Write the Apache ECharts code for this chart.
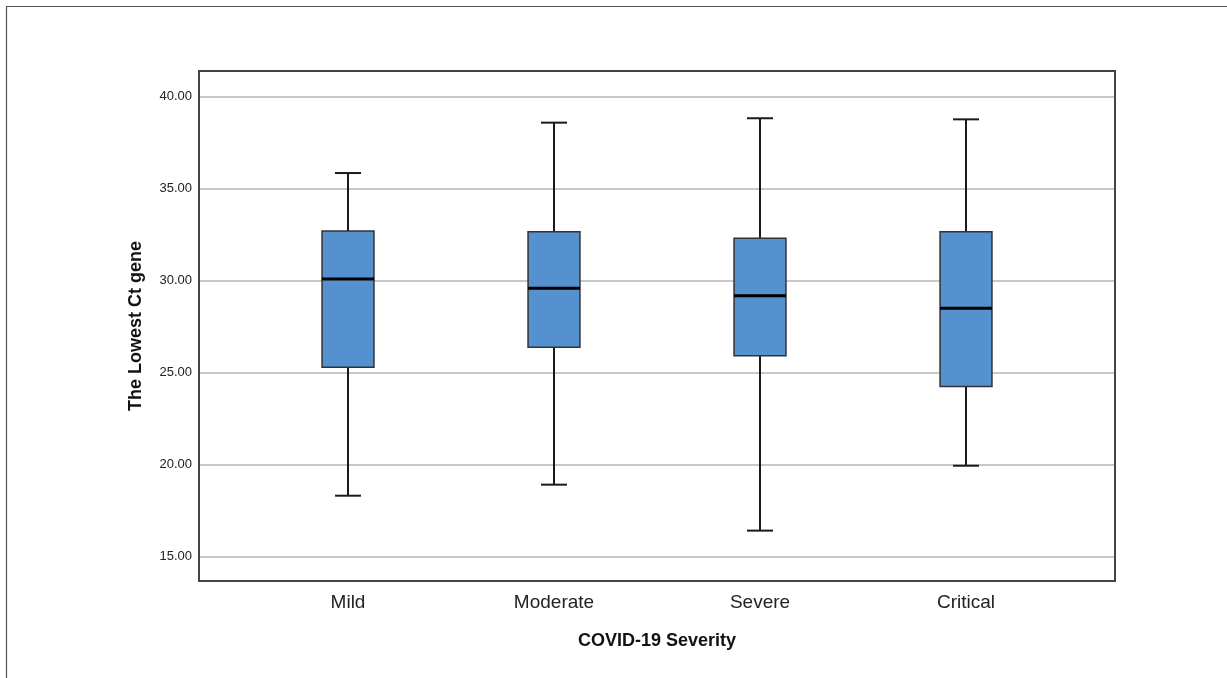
<!DOCTYPE html>
<html>
<head>
<meta charset="utf-8">
<script src="https://cdn.jsdelivr.net/npm/echarts@6/dist/echarts.min.js"></script>
<style>
html,body{margin:0;padding:0;background:#fff;}
#chart{width:1227px;height:678px;}
</style>
</head>
<body>
<div id="chart"></div>
<script>
const categories = ['Mild', 'Moderate', 'Severe', 'Critical'];
const whiskerLow = [18.30, 18.90, 16.40, 19.93];
const quartile1 = [25.29, 26.38, 25.91, 24.24];
const medians = [30.08, 29.59, 29.18, 28.50];
const quartile3 = [32.70, 32.66, 32.30, 32.66];
const whiskerHigh = [35.85, 38.59, 38.83, 38.77];
const yMin = 13.66;
const yMax = 41.40;

const boxData = categories.map((c, i) => [i, whiskerLow[i], quartile1[i], medians[i], quartile3[i], whiskerHigh[i]]);

const chart = echarts.init(document.getElementById('chart'));
const FONT = 'Liberation Sans, Arial, sans-serif';

chart.setOption({
  animation: false,
  backgroundColor: '#ffffff',
  graphic: [{
    type: 'rect',
    shape: {x: 6.5, y: 6.5, width: 1400, height: 900},
    style: {fill: 'none', stroke: '#555', lineWidth: 1.2},
    z: 100
  }],
  grid: [
    {left: 199, right: 112, top: 71, bottom: 97, show: true, borderColor: '#444', borderWidth: 2, backgroundColor: 'transparent', z: 3},
    {left: 245, right: 158, top: 71, bottom: 97}
  ],
  xAxis: [
    {type: 'value', gridIndex: 0, show: false, min: 0, max: 1},
    {
      type: 'category', gridIndex: 1, data: categories,
      axisLine: {show: false}, axisTick: {show: false},
      axisLabel: {fontFamily: FONT, fontSize: 19, color: '#222', margin: 12},
      name: 'COVID-19 Severity', nameLocation: 'middle', nameGap: 51,
      nameTextStyle: {fontFamily: FONT, fontSize: 18, fontWeight: 'bold', color: '#111'}
    }
  ],
  yAxis: [
    {
      type: 'value', gridIndex: 0, min: yMin, max: yMax, splitNumber: 5,
      axisLine: {show: false}, axisTick: {show: false},
      axisLabel: {
        fontFamily: FONT, fontSize: 13, color: '#222', margin: 7,
        padding: [5, 0, 0, 0],
        showMinLabel: false, showMaxLabel: false,
        formatter: v => (Math.abs(v / 5 - Math.round(v / 5)) < 1e-6 ? v.toFixed(2) : '')
      },
      splitLine: {show: true, lineStyle: {color: '#c8c8c8', width: 2}},
      name: 'The Lowest Ct gene', nameLocation: 'middle', nameGap: 54, nameRotate: 90,
      nameTextStyle: {fontFamily: FONT, fontSize: 18, fontWeight: 'bold', color: '#111'}
    },
    {type: 'value', gridIndex: 1, min: yMin, max: yMax, show: false, splitLine: {show: false}}
  ],
  series: [{
    type: 'custom',
    xAxisIndex: 1,
    yAxisIndex: 1,
    z: 5,
    encode: {x: 0, y: [1, 2, 3, 4, 5]},
    data: boxData,
    renderItem: function (params, api) {
      const idx = api.value(0);
      const pLow = api.coord([idx, api.value(1)]);
      const pQ1 = api.coord([idx, api.value(2)]);
      const pMed = api.coord([idx, api.value(3)]);
      const pQ3 = api.coord([idx, api.value(4)]);
      const pHigh = api.coord([idx, api.value(5)]);
      const band = api.size([1, 0])[0];
      const bw = band * 0.252;
      const cw = bw / 2;
      const cx = pMed[0];
      const lineStyle = {stroke: '#1a1a1a', lineWidth: 2};
      return {
        type: 'group',
        children: [
          {type: 'line', shape: {x1: cx, y1: pQ3[1], x2: cx, y2: pHigh[1]}, style: lineStyle},
          {type: 'line', shape: {x1: cx, y1: pQ1[1], x2: cx, y2: pLow[1]}, style: lineStyle},
          {type: 'line', shape: {x1: cx - cw / 2, y1: pHigh[1], x2: cx + cw / 2, y2: pHigh[1]}, style: lineStyle},
          {type: 'line', shape: {x1: cx - cw / 2, y1: pLow[1], x2: cx + cw / 2, y2: pLow[1]}, style: lineStyle},
          {type: 'rect', shape: {x: cx - bw / 2, y: pQ3[1], width: bw, height: pQ1[1] - pQ3[1]},
            style: {fill: '#5591cf', stroke: '#333', lineWidth: 1.5}},
          {type: 'line', shape: {x1: cx - bw / 2, y1: pMed[1], x2: cx + bw / 2, y2: pMed[1]},
            style: {stroke: '#000', lineWidth: 3}}
        ]
      };
    }
  }]
});
</script>
</body>
</html>
